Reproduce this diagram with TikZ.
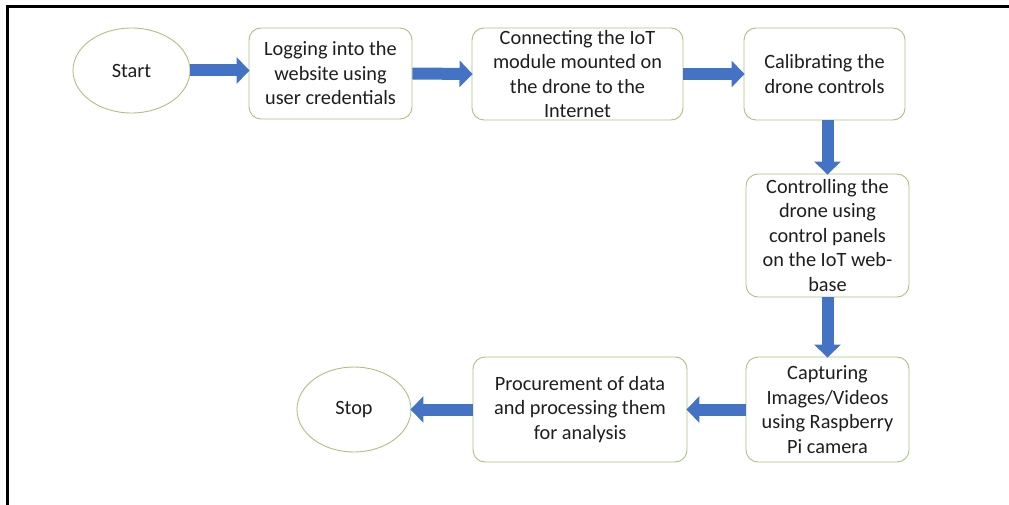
\documentclass[tikz,border=0pt]{standalone}
\usepackage{fontspec}
\setmainfont{Carlito}
\usetikzlibrary{arrows.meta,shapes.geometric}
\definecolor{boxline}{RGB}{168,196,128}
\definecolor{flowblue}{RGB}{68,114,196}
\definecolor{ink}{RGB}{30,30,30}
\tikzset{
  stepbox/.style={draw=boxline, line width=0.9pt, fill=white, rounded corners=12pt,
    align=center, inner sep=0pt, text=ink,
    font=\fontsize{20.3}{24.5}\selectfont},
  terminal/.style={ellipse, draw=boxline, line width=0.9pt, fill=white, inner sep=0pt,
    text=ink, font=\fontsize{20.3}{24.5}\selectfont},
  flow/.style={draw=flowblue, line width=12pt,
    -{Triangle[width=26pt,length=13pt]}, shorten >=-1pt},
}
\begin{document}
\begin{tikzpicture}[x=1pt,y=-1pt]
\useasboundingbox (0,0) rectangle (1009,505);
% frame
\coordinate (fl) at (7,505);
\coordinate (fc) at (7,7);
\coordinate (fr) at (1009,7);
\draw[line width=3pt, line cap=rect] (fl) -- (fc) -- (fr);

% top row
\node[terminal, minimum width=117pt, minimum height=85pt] (start) at (131.5,70.5) {Start};
\node[stepbox, minimum width=163pt, minimum height=91pt] (b1) at (330.5,73.5)
  {Logging into the\\website using\\user credentials};
\node[stepbox, minimum width=211pt, minimum height=92pt] (b2) at (577.5,74)
  {Connecting the IoT\\module mounted on\\the drone to the\\Internet};
\node[stepbox, minimum width=161pt, minimum height=92pt] (b3) at (824.5,74)
  {Calibrating the\\drone controls};

% right column
\node[stepbox, minimum width=163pt, minimum height=123pt] (b4) at (827.5,235.5)
  {Controlling the\\drone using\\control panels\\on the IoT web-\\base};
\node[stepbox, minimum width=163pt, minimum height=105pt] (b5) at (827.5,409.5)
  {Capturing\\Images/Videos\\using Raspberry\\Pi camera};

% bottom row
\node[stepbox, minimum width=214pt, minimum height=105pt] (b6) at (580,409.5)
  {Procurement of data\\and processing them\\for analysis};
\node[terminal, minimum width=114pt, minimum height=85pt] (stop) at (354,409.5) {Stop};

% connectors
\draw[flow] (start.east) -- (start.east -| b1.west);
\draw[flow] (b1.east) -- (b2.west);
\draw[flow] (b2.east) -- (b3.west);
\draw[flow] (b3.south -| b4.north) -- (b4.north);
\draw[flow] (b4.south) -- (b5.north);
\draw[flow] (b5.west) -- (b6.east);
\draw[flow] (b6.west) -- (stop.east);
\end{tikzpicture}
\end{document}
